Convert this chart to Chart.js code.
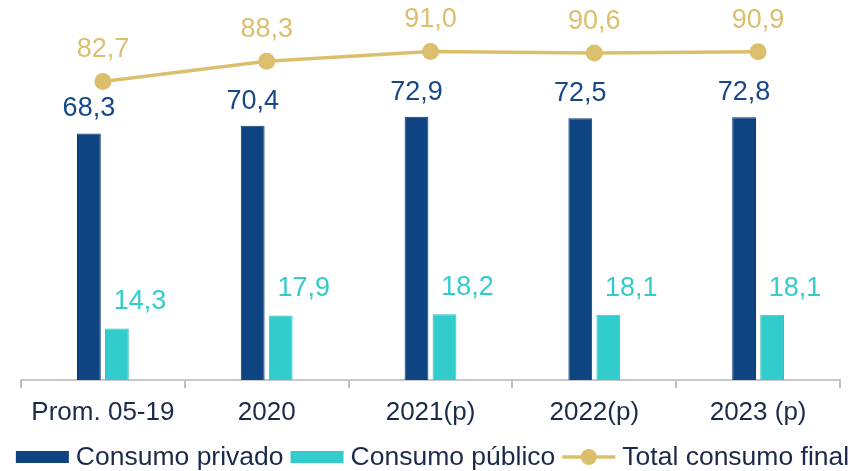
<!DOCTYPE html>
<html>
<head>
<meta charset="utf-8">
<script src="https://cdn.jsdelivr.net/npm/chart.js@4.4.1/dist/chart.umd.min.js"></script>
<style>
  html, body { margin: 0; padding: 0; background: #fff; }
  #wrap { width: 855px; height: 471px; }
</style>
</head>
<body>
<div id="wrap"><canvas id="consumo-chart"></canvas></div>
<script>
// datos
var periodos = ['Prom. 05-19', '2020', '2021(p)', '2022(p)', '2023 (p)'];
var consumoPrivado = [68.3, 70.4, 72.9, 72.5, 72.8];
var consumoPublico = [14.3, 17.9, 18.2, 18.1, 18.1];
var consumoTotal = [82.7, 88.3, 91.0, 90.6, 90.9];

var AZUL = '#0f4482';
var CIAN = '#33cccc';
var ORO = '#dbbf6c';
var TEXTO = '#1c2a4a';
var FUENTE = "'Liberation Sans', Arial, sans-serif";

function fmt(v) {
    return v.toFixed(1).replace('.', ',');
}

// etiquetas de valor
var etiquetas = {
    id: 'etiquetas',
    afterDatasetsDraw: function(chart) {
        var ctx = chart.ctx;
        ctx.save();
        ctx.font = '27px ' + FUENTE;
        ctx.textAlign = 'center';
        ctx.textBaseline = 'alphabetic';
        chart.data.datasets.forEach(function(ds, i) {
            var meta = chart.getDatasetMeta(i);
            meta.data.forEach(function(el, j) {
                var dx = 0, dy = 17;
                if (ds.type === 'line') dy = 24;
                if (i === 1) { dx = 23; dy = 19; }
                ctx.fillStyle = ds.labelColor;
                ctx.fillText(fmt(ds.data[j]), el.x + dx, el.y - dy);
            });
        });
        ctx.restore();
    }
};

// leyenda dibujada a mano (más compacta que la de Chart.js)
var leyenda = {
    id: 'leyenda',
    afterDraw: function(chart) {
        var ctx = chart.ctx;
        var items = [
            { ds: 2, tipo: 'barra' },
            { ds: 1, tipo: 'barra' },
            { ds: 0, tipo: 'linea' }
        ];
        var icono = 53, gap = 7, y = 457;
        ctx.save();
        ctx.font = '26.5px ' + FUENTE;
        ctx.textBaseline = 'middle';
        var total = 0;
        items.forEach(function(it) {
            it.texto = chart.data.datasets[it.ds].label;
            it.ancho = ctx.measureText(it.texto).width;
            total += icono + gap + it.ancho;
        });
        total += gap * (items.length - 1);
        var x = 432.5 - total / 2;
        items.forEach(function(it) {
            var ds = chart.data.datasets[it.ds];
            if (it.tipo === 'barra') {
                ctx.fillStyle = ds.backgroundColor;
                ctx.fillRect(x, y - 6, icono, 12);
            } else {
                ctx.strokeStyle = ds.borderColor;
                ctx.lineWidth = 3.5;
                ctx.beginPath(); ctx.moveTo(x, y); ctx.lineTo(x + icono, y); ctx.stroke();
                ctx.fillStyle = ds.borderColor;
                ctx.beginPath(); ctx.arc(x + icono / 2, y, 8, 0, Math.PI * 2); ctx.fill();
            }
            x += icono + gap;
            ctx.fillStyle = TEXTO;
            ctx.fillText(it.texto, x, y + 1);
            x += it.ancho + gap;
        });
        ctx.restore();
    }
};

document.addEventListener('DOMContentLoaded', function() {
    var ctx = document.getElementById('consumo-chart').getContext('2d');

    var data = {
        labels: periodos,
        datasets: [{
            type: 'line',
            label: 'Total consumo final',
            data: consumoTotal,
            borderColor: ORO,
            backgroundColor: ORO,
            borderWidth: 3.5,
            pointRadius: 8.5,
            pointBackgroundColor: ORO,
            pointBorderWidth: 0,
            labelColor: ORO,
            order: 0
        }, {
            type: 'bar',
            label: 'Consumo público',
            data: consumoPublico,
            backgroundColor: CIAN,
            borderColor: '#3fbcbc',
            borderWidth: 1,
            labelColor: CIAN,
            order: 2
        }, {
            type: 'bar',
            label: 'Consumo privado',
            data: consumoPrivado,
            backgroundColor: AZUL,
            borderColor: '#0b3a70',
            borderWidth: 1,
            labelColor: '#17488a',
            order: 1
        }]
    };

    var options = {
        responsive: true,
        maintainAspectRatio: false,
        animation: false,
        layout: { padding: { left: 21, right: 15, top: 19, bottom: 41 } },
        datasets: {
            bar: { categoryPercentage: 0.342, barPercentage: 0.85 }
        },
        scales: {
            x: {
                grid: { display: true, drawOnChartArea: false, drawTicks: true, tickLength: 8, color: '#bfbfbf', lineWidth: 2 },
                border: { display: true, color: '#c8c8c8', width: 2 },
                ticks: { color: TEXTO, font: { family: FUENTE, size: 26 }, padding: 9 },
                afterFit: function(scale) {
                    scale.height = 50;
                }
            },
            y: {
                display: false,
                min: 0,
                max: 100
            }
        },
        plugins: {
            tooltip: { enabled: false },
            legend: { display: false }
        }
    };

    new Chart(ctx, {
        data: data,
        options: options,
        plugins: [etiquetas, leyenda]
    });
});
</script>
</body>
</html>
